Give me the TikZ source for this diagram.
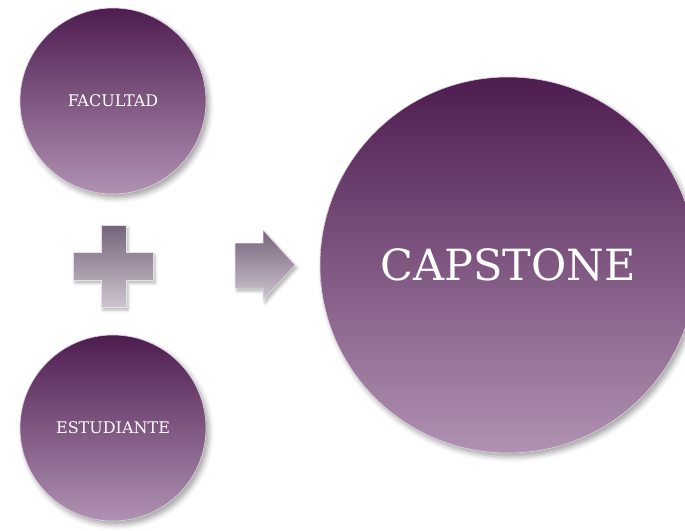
\documentclass[tikz,border=0pt]{standalone}
\usepackage{fontspec}
\setmainfont{DejaVu Serif}
\usetikzlibrary{shadows.blur}
\definecolor{plumdark}{RGB}{78,28,80}
\definecolor{plumlight}{RGB}{176,146,178}
\definecolor{greydark}{RGB}{118,100,122}
\definecolor{greylight}{RGB}{206,196,208}

\begin{document}
\begin{tikzpicture}
    [
        x=1pt, y=-1pt,
        plum_disc/.style={circle, top color=plumdark, bottom color=plumlight, draw=white!60!plumlight, line width=0.6pt, text=white, inner sep=0pt,
            blur shadow={shadow xshift=3pt, shadow yshift=-4pt, shadow blur radius=5pt, shadow opacity=35}},
        small_disc/.style={plum_disc, minimum size=186pt, font=\fontsize{16}{18}\selectfont},
        big_disc/.style={plum_disc, minimum size=376pt, font=\fontsize{43}{48}\selectfont},
        grey_sign/.style={top color=greydark, bottom color=greylight, draw=white!50!greylight, line width=0.5pt,
            blur shadow={shadow xshift=2pt, shadow yshift=-3pt, shadow blur radius=3pt, shadow opacity=30}},
    ]

  \useasboundingbox (0,0) rectangle (685,530);

  \node[small_disc] (fac) at (113,101) {FACULTAD};
  \node[small_disc] (est) at (113,428) {ESTUDIANTE};
  \node[big_disc] (cap) at (508,265) {CAPSTONE};

  % plus sign
  \path[grey_sign] (101,225) -- (126,225) -- (126,252) -- (153,252) -- (153,280) -- (126,280) -- (126,307)
    -- (101,307) -- (101,280) -- (73,280) -- (73,252) -- (101,252) -- cycle;

  % arrow
  \path[grey_sign] (235,243) -- (263,243) -- (263,230) -- (295,265) -- (263,300) -- (263,288) -- (235,288) -- cycle;
\end{tikzpicture}
\end{document}
